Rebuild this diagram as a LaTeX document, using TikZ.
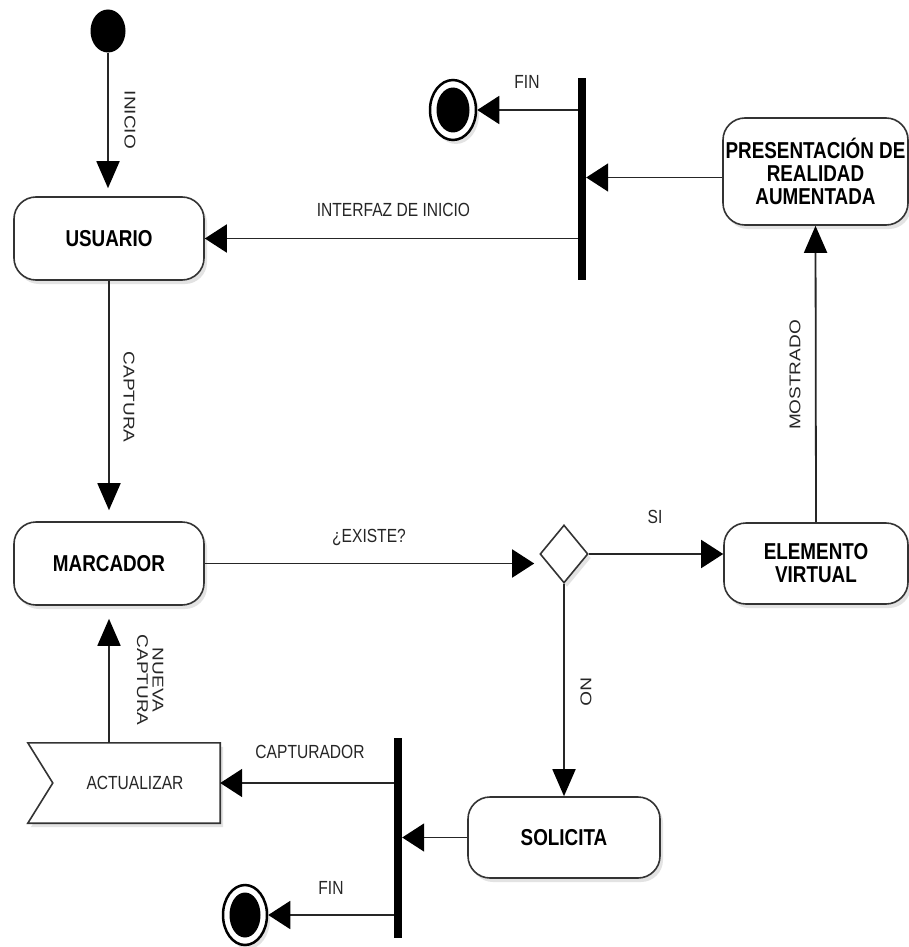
\documentclass[tikz,border=0pt]{standalone}
\usepackage{fontspec}
\usepackage{graphicx}
\usetikzlibrary{arrows.meta,shapes.geometric,shadows,backgrounds}
\newfontfamily\labfont[FakeStretch=0.82]{Liberation Sans}
\newfontfamily\rotfont{Liberation Sans}
\begin{document}
\begin{tikzpicture}[x=1pt,y=-1pt,
  shad/.style={drop shadow={opacity=0.22, shadow xshift=3pt, shadow yshift=-4pt}},
  state/.style={draw=black!80, line width=1.6pt, rounded corners=22pt, fill=white,
    minimum width=190pt, minimum height=83pt, inner sep=0pt, align=center,
    font=\labfont\bfseries\fontsize{23}{23}\selectfont, shad},
  lbl/.style={font=\labfont\fontsize{19}{20}\selectfont, text=black!85, inner sep=0pt},
  rlbl/.style={font=\rotfont\fontsize{19}{18.3}\selectfont, text=black!85, inner sep=0pt, align=center},
  conn/.style={draw=black!85, line width=1.8pt},
  harr/.style={conn, -{Triangle[length=22pt,width=28pt,color=black]}},
  varr/.style={conn, -{Triangle[length=27pt,width=23pt,color=black]}},
  syncbar/.style={fill=black, inner sep=0pt, minimum width=8pt},
  endout/.style={ellipse, draw=black, line width=2.5pt, fill=white, inner sep=0pt, shad},
  endin/.style={ellipse, fill=black, inner sep=0pt},
]
\useasboundingbox (0,0) rectangle (909,947);
\begin{scope}[on background layer]
  \fill[white] (0,0) rectangle (909,947);
\end{scope}

% nodes
\node[ellipse, fill=black, inner sep=0pt, minimum width=35pt, minimum height=43pt] (start) at (108,31) {};
\node[state] (usuario) at (109,238.5) {USUARIO};
\node[state] (marcador) at (109,563.5) {MARCADOR};
\node[state, minimum width=185pt, minimum height=107pt] (pres) at (815.5,171.5) {PRESENTACIÓN DE\\REALIDAD\\AUMENTADA};
\node[state, minimum width=184pt, minimum height=81pt] (elem) at (816,563.5) {ELEMENTO\\VIRTUAL};
\node[state, minimum width=192pt, minimum height=81pt] (solicita) at (564,837.5) {SOLICITA};
\node[diamond, draw=black!80, line width=1.6pt, fill=white, inner sep=0pt,
      minimum width=48pt, minimum height=58pt, shad] (diam) at (564,554) {};
\node[syncbar, minimum height=202pt] (bar1) at (582,179) {};
\node[syncbar, minimum height=200pt] (bar2) at (398,838) {};
\node[endout, minimum width=46pt, minimum height=60pt] (end1) at (453,110) {};
\node[endin, minimum width=33pt, minimum height=45pt] (end1in) at (end1) {};
\node[endout, minimum width=44pt, minimum height=60pt] (end2) at (245,915) {};
\node[endin, minimum width=31pt, minimum height=45pt] (end2in) at (end2) {};
\node[lbl, minimum width=192pt, minimum height=80pt] (act) at (124,783) {\hspace*{22pt}ACTUALIZAR};
\begin{scope}[on background layer]
  \draw[draw=black!80, line width=1.6pt, fill=white, shad]
    (act.north west) -- (act.north east) -- (act.south east) -- (act.south west)
    -- ([xshift=25pt]act.west) -- cycle;
\end{scope}

% connectors
\draw[varr, shorten >=8pt] (start.south) -- (start.south |- usuario.north);
\draw[harr] (bar1.west |- usuario.east) -- (usuario.east);
\draw[harr] (bar1.west |- end1.east) -- (end1.east);
\draw[harr] ([yshift=-6pt]pres.west) -- ([yshift=-6pt]pres.west -| bar1.east);
\draw[varr, shorten >=11pt] (usuario.south) -- (marcador.north);
\draw[harr, shorten >=5pt] (marcador.east) -- (marcador.east -| diam.west);
\draw[harr] (diam.east) -- (diam.east -| elem.west);
\draw[varr] (elem.north) -- (pres.south);
\draw[varr] (diam.south) -- (solicita.north);
\draw[harr] (solicita.west) -- (solicita.west -| bar2.east);
\draw[harr] (bar2.west |- act.east) -- (act.east);
\draw[harr] (bar2.west |- end2.east) -- (end2.east);
\draw[varr, shorten >=13pt] (act.north -| marcador.south) -- (marcador.south);

% labels
\node[rlbl, rotate=-90] (linicio) at (130,120) {\scalebox{1}[0.82]{INICIO}};
\node[rlbl, rotate=-90] (lcaptura) at (129,397) {\scalebox{1}[0.82]{CAPTURA}};
\node[rlbl, rotate=90] (lmostrado) at (795,375) {\scalebox{1}[0.82]{MOSTRADO}};
\node[rlbl, rotate=-90] (lno) at (586,692) {\scalebox{1}[0.82]{NO}};
\node[rlbl, rotate=-90] (lnueva) at (148,680) {\scalebox{1}[0.82]{\begin{tabular}{@{}c@{}}NUEVA\\CAPTURA\end{tabular}}};
\node[lbl] (linterfaz) at (393.5,210) {INTERFAZ DE INICIO};
\node[lbl] (lfin1) at (527,82) {FIN};
\node[lbl] (lfin2) at (331,888) {FIN};
\node[lbl] (lexiste) at (369,537) {¿EXISTE?};
\node[lbl] (lsi) at (655,517) {SI};
\node[lbl] (lcapturador) at (310,752) {CAPTURADOR};
\end{tikzpicture}
\end{document}
